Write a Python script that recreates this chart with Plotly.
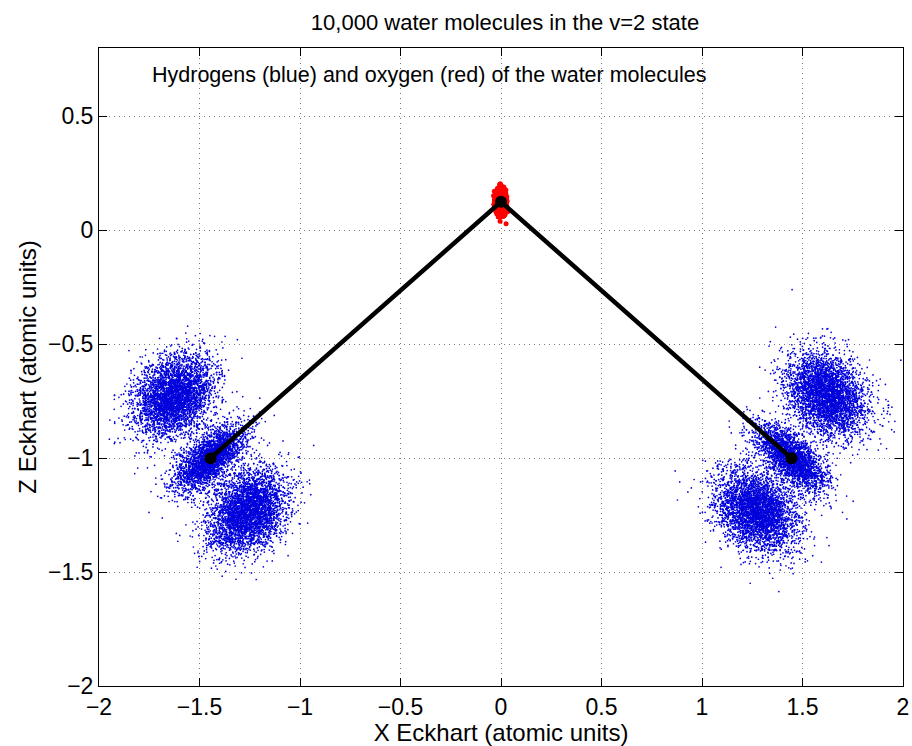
import numpy as np
import plotly.graph_objects as go

# ---- values ----
title_text = "10,000 water molecules in the v=2 state"
note_text = "Hydrogens (blue) and oxygen (red) of the water molecules"
x_title = "X Eckhart (atomic units)"
y_title = "Z Eckhart (atomic units)"

x_ticks = [-2, -1.5, -1, -0.5, 0, 0.5, 1, 1.5, 2]
y_ticks = [-2, -1.5, -1, -0.5, 0, 0.5]

# mean geometry (black skeleton): H1, O, H2
geom_x = [-1.445, 0.0, 1.445]
geom_z = [-1.0, 0.125, -1.0]

# hydrogen cloud lobes (three per hydrogen, v=2 pattern)
lobe_x = [-1.63, -1.448, -1.26, 1.62, 1.446, 1.27]
lobe_z = [-0.73, -1.0, -1.23, -0.72, -1.0, -1.23]
lobe_sd_axis = [0.08, 0.046, 0.08, 0.08, 0.046, 0.08]
lobe_sd_perp = [0.108, 0.105, 0.108, 0.108, 0.105, 0.108]
lobe_axis_angle_deg = [-53.5, -53.5, -53.5, 233.5, 233.5, 233.5]
lobe_count = [3700, 2600, 3700, 3700, 2600, 3700]

# oxygen cloud
oxy_x = [0.0]
oxy_z = [0.125]
oxy_sd_x = [0.009]
oxy_sd_z = [0.021]
oxy_count = [10000]

# ---- the molecules themselves are a sample; draw one reproducibly ----
rng = np.random.default_rng(2)
hx, hz = [], []
for cx, cz, sa, sp, ang, n in zip(lobe_x, lobe_z, lobe_sd_axis, lobe_sd_perp,
                                  lobe_axis_angle_deg, lobe_count):
    t = np.deg2rad(ang)
    a = rng.normal(0, sa, n)
    p = rng.normal(0, sp, n)
    hx.append(cx + a * np.cos(t) - p * np.sin(t))
    hz.append(cz + a * np.sin(t) + p * np.cos(t))
hx = np.concatenate(hx)
hz = np.concatenate(hz)

ox = np.concatenate([rng.normal(c, s, n) for c, s, n in zip(oxy_x, oxy_sd_x, oxy_count)])
oz = np.concatenate([rng.normal(c, s, n) for c, s, n in zip(oxy_z, oxy_sd_z, oxy_count)])

fig = go.Figure()
fig.add_trace(go.Scatter(x=hx, y=hz, mode="markers",
                         marker=dict(size=1.7, color="rgb(0,0,220)", line=dict(width=0)),
                         hoverinfo="skip", showlegend=False))
fig.add_trace(go.Scatter(x=ox, y=oz, mode="markers",
                         marker=dict(size=5, color="red", line=dict(width=0)),
                         hoverinfo="skip", showlegend=False))
fig.add_trace(go.Scatter(x=geom_x, y=geom_z, mode="lines+markers",
                         line=dict(color="black", width=4.5),
                         marker=dict(size=12, color="black"),
                         showlegend=False))

font = "Liberation Sans, Arial, Helvetica, sans-serif"
axis_common = dict(showline=True, linecolor="black", linewidth=1, mirror="ticks",
                   ticks="inside", ticklen=8, tickcolor="black", automargin=False,
                   showgrid=True, gridcolor="rgb(120,120,120)", griddash="1px,4px", gridwidth=1,
                   zeroline=False, tickfont=dict(size=23, color="black", family=font))

fig.update_xaxes(range=[-2, 2], tickvals=x_ticks,
                 ticktext=[f"{v:g}".replace("-", "\u2212") for v in x_ticks],
                 title=dict(text=x_title, font=dict(size=24, color="black", family=font), standoff=0),
                 **axis_common)
fig.update_yaxes(range=[-2, 0.8], tickvals=y_ticks,
                 ticktext=[f"{v:g}".replace("-", "\u2212") for v in y_ticks],
                 title=dict(text=y_title, font=dict(size=24, color="black", family=font), standoff=4),
                 **axis_common)

fig.update_layout(
    width=912, height=746,
    margin=dict(l=99, r=9, t=48, b=60),
    paper_bgcolor="white", plot_bgcolor="white",
    hovermode=False,
    title=dict(text=title_text, xref="paper", x=0.505, xanchor="center",
               yref="container", y=1 - 22 / 746, yanchor="middle",
               font=dict(size=22, color="black", family=font)),
    annotations=[dict(text=note_text, xref="paper", yref="paper", x=0.063, y=0.958,
                      xanchor="left", yanchor="middle", showarrow=False,
                      font=dict(size=21.5, color="black", family=font))],
)

fig.write_html("out.html", config={"displayModeBar": False},
               post_script="document.body.style.margin='0';document.body.style.overflow='hidden';")
